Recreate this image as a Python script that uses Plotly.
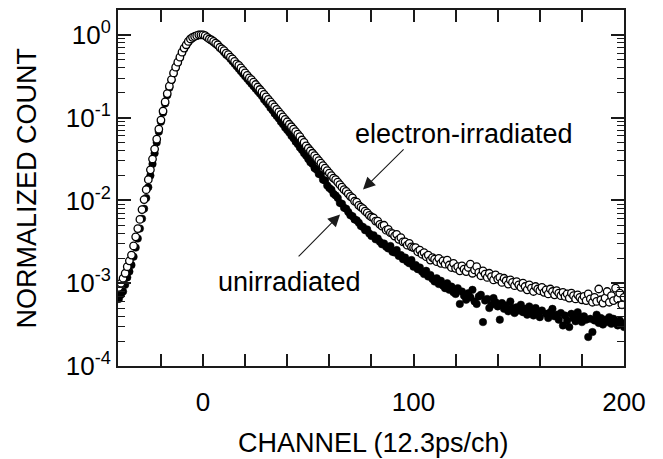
import plotly.graph_objects as go

# Channels (12.3 ps per channel)
channels = list(range(-40, 201))

# log10(normalized count), channel -40 ... 200
electron_irradiated_log10 = [
    -3.05, -3.00, -2.94, -2.88, -2.80, -2.73, -2.66, -2.55, -2.44, -2.34,
    -2.23, -2.11, -1.99, -1.87, -1.75, -1.63, -1.50, -1.38, -1.26, -1.14,
    -1.03, -0.92, -0.81, -0.71, -0.62, -0.54, -0.46, -0.39, -0.33, -0.27,
    -0.21, -0.16, -0.12, -0.08, -0.05, -0.03, -0.02, -0.01, 0.00, 0.00,
    0.00,
    -0.01, -0.03, -0.05, -0.06, -0.08,
    -0.10, -0.12, -0.15, -0.17, -0.19,
    -0.22, -0.24, -0.27, -0.29, -0.32,
    -0.35, -0.37, -0.40, -0.43, -0.46,
    -0.49, -0.52, -0.54, -0.57, -0.60,
    -0.63, -0.66, -0.69, -0.72, -0.75,
    -0.78, -0.81, -0.84, -0.87, -0.90,
    -0.93, -0.96, -0.99, -1.02, -1.05,
    -1.08, -1.11, -1.14, -1.17, -1.20,
    -1.23, -1.27, -1.30, -1.34, -1.37,
    -1.40, -1.43, -1.46, -1.49, -1.52,
    -1.55, -1.58, -1.61, -1.64, -1.67,
    -1.70, -1.73, -1.75, -1.78, -1.81,
    -1.84, -1.87, -1.89, -1.92, -1.95,
    -1.97, -2.01, -2.02, -2.06, -2.08,
    -2.10, -2.13, -2.15, -2.18, -2.20,
    -2.21, -2.25, -2.25, -2.29, -2.31,
    -2.30, -2.36, -2.35, -2.39, -2.40,
    -2.43, -2.41, -2.47, -2.45, -2.50,
    -2.50, -2.54, -2.52, -2.56, -2.57,
    -2.57, -2.62, -2.60, -2.65, -2.63,
    -2.68, -2.66, -2.72, -2.69, -2.71,
    -2.74, -2.70, -2.76, -2.73, -2.77,
    -2.72, -2.78, -2.81, -2.76, -2.82,
    -2.80, -2.85, -2.79, -2.83, -2.86,
    -2.81, -2.77, -2.88, -2.84, -2.80,
    -2.87, -2.91, -2.85, -2.89, -2.93,
    -2.88, -2.92, -2.96, -2.90, -2.95,
    -2.93, -2.99, -2.94, -2.97, -3.01,
    -2.96, -2.99, -3.03, -2.98, -3.02,
    -3.05, -3.00, -3.04, -3.08, -3.02,
    -3.06, -3.10, -3.04, -3.07, -3.09,
    -3.05, -3.11, -3.08, -3.13, -3.07,
    -3.10, -3.14, -3.09, -3.12, -3.15,
    -3.11, -3.16, -3.13, -3.18, -3.12,
    -3.15, -3.19, -3.14, -3.17, -3.20,
    -3.16, -3.21, -3.13, -3.19, -3.23,
    -3.17, -3.22, -3.07, -3.20, -3.24,
    -3.18, -3.10, -3.23, -3.15, -3.21,
    -3.06, -3.19, -3.12, -3.26, -3.17,
]

unirradiated_log10 = [
    -3.19, -3.14, -3.10, -3.02, -2.93, -2.86, -2.78, -2.68, -2.57, -2.46,
    -2.34, -2.22, -2.10, -1.97, -1.84, -1.70, -1.56, -1.43, -1.30, -1.17,
    -1.05, -0.94, -0.83, -0.73, -0.64, -0.55, -0.47, -0.40, -0.34, -0.28,
    -0.22, -0.17, -0.13, -0.09, -0.06, -0.04, -0.02, -0.01, 0.00, 0.00,
    0.00,
    -0.01, -0.03, -0.05, -0.07, -0.09,
    -0.11, -0.13, -0.16, -0.18, -0.21,
    -0.24, -0.26, -0.29, -0.32, -0.35,
    -0.38, -0.41, -0.44, -0.47, -0.50,
    -0.53, -0.56, -0.59, -0.62, -0.65,
    -0.68, -0.71, -0.74, -0.78, -0.81,
    -0.84, -0.88, -0.91, -0.95, -0.98,
    -1.01, -1.05, -1.08, -1.12, -1.15,
    -1.18, -1.22, -1.25, -1.29, -1.32,
    -1.36, -1.39, -1.43, -1.46, -1.50,
    -1.54, -1.56, -1.61, -1.63, -1.68,
    -1.69, -1.75, -1.76, -1.82, -1.85,
    -1.87, -1.92, -1.94, -1.97, -2.03,
    -2.04, -2.09, -2.10, -2.14, -2.18,
    -2.19, -2.23, -2.24, -2.27, -2.31,
    -2.32, -2.36, -2.35, -2.40, -2.43,
    -2.42, -2.47, -2.46, -2.50, -2.53,
    -2.52, -2.56, -2.58, -2.55, -2.62,
    -2.63, -2.60, -2.67, -2.66, -2.71,
    -2.69, -2.74, -2.76, -2.72, -2.80,
    -2.78, -2.83, -2.81, -2.86, -2.89,
    -2.85, -2.92, -2.90, -2.95, -2.98,
    -2.94, -3.01, -2.97, -3.03, -3.06,
    -3.00, -3.08, -3.04, -3.11, -3.13,
    -3.06, -3.25, -3.10, -3.15, -3.20,
    -3.12, -3.17, -3.08, -3.22, -3.25,
    -3.16, -3.14, -3.47, -3.21, -3.19,
    -3.30, -3.26, -3.18, -3.23, -3.28,
    -3.44, -3.24, -3.31, -3.27, -3.34,
    -3.22, -3.30, -3.36, -3.29, -3.33,
    -3.26, -3.35, -3.31, -3.38, -3.28,
    -3.34, -3.39, -3.30, -3.36, -3.41,
    -3.33, -3.07, -3.37, -3.42, -3.35,
    -3.31, -3.40, -3.38, -3.44, -3.36,
    -3.51, -3.39, -3.45, -3.53, -3.37,
    -3.42, -3.46, -3.35, -3.41, -3.47,
    -3.40, -3.44, -3.65, -3.43, -3.59,
    -3.45, -3.38, -3.48, -3.42, -3.50,
    -3.44, -3.47, -3.41, -3.49, -3.43,
    -3.46, -3.51, -3.45, -3.48, -3.53,
]

electron_irradiated = [10 ** v for v in electron_irradiated_log10]
unirradiated = [10 ** v for v in unirradiated_log10]

y_tick_vals = [1e-4, 1e-3, 1e-2, 1e-1, 1]
y_tick_text = ["10<sup>-4</sup>", "10<sup>-3</sup>", "10<sup>-2</sup>",
               "10<sup>-1</sup>", "10<sup>0</sup>"]

FONT = "Liberation Sans, Arial, sans-serif"
INK = "#1a1a1a"

fig = go.Figure()
fig.add_trace(go.Scatter(
    x=channels, y=unirradiated, mode="markers", name="unirradiated",
    marker=dict(symbol="circle", size=7.5, color="black",
                line=dict(color="black", width=0.5)),
))
fig.add_trace(go.Scatter(
    x=channels, y=electron_irradiated, mode="markers", name="electron-irradiated",
    marker=dict(symbol="circle", size=7.5, color="white",
                line=dict(color="black", width=1.3)),
))

fig.update_layout(
    width=655, height=451,
    margin=dict(l=110, r=39, t=0, b=93),
    paper_bgcolor="white", plot_bgcolor="white",
    showlegend=False,
    font=dict(family=FONT, size=26, color="black"),
    xaxis=dict(
        range=[-40.4, 200], tickmode="linear", tick0=0, dtick=100,
        ticks="inside", ticklen=12, tickwidth=1.5,
        tickcolor=INK, showline=True, linecolor=INK, linewidth=1.8,
        mirror="ticks", showgrid=False, zeroline=False,
        tickfont=dict(size=26), ticklabelstandoff=12,
        minor=dict(ticks="inside", ticklen=12, tickwidth=1.5, tickcolor=INK,
                   tick0=0, dtick=20, showgrid=False),
    ),
    yaxis=dict(
        type="log", range=[-4, 0.30], tickmode="array", tickvals=y_tick_vals,
        ticktext=y_tick_text, ticks="inside", ticklen=13, tickwidth=1.5,
        tickcolor=INK, showline=True, linecolor=INK, linewidth=1.8,
        mirror="ticks", showgrid=False, zeroline=False,
        tickfont=dict(size=26),
        minor=dict(ticks="inside", ticklen=7, tickwidth=1.2, tickcolor=INK,
                   dtick="D1", showgrid=False),
    ),
    annotations=[
        dict(text="CHANNEL (12.3ps/ch)", xref="paper", yref="paper",
             x=0.504, y=-0.217, xanchor="center", yanchor="middle",
             showarrow=False, font=dict(size=27)),
        dict(text="NORMALIZED COUNT", xref="paper", yref="paper",
             x=-0.180, y=0.501, xanchor="center", yanchor="middle",
             textangle=-90, showarrow=False, font=dict(size=27)),
        dict(text="electron-irradiated", xref="x", yref="y",
             x=71.3, y=-1.20, xanchor="left", yanchor="middle",
             showarrow=False, font=dict(size=27)),
        dict(text="unirradiated", xref="x", yref="y",
             x=6.2, y=-2.99, xanchor="left", yanchor="middle",
             showarrow=False, font=dict(size=27)),
        dict(text="", xref="x", yref="y", x=76.0, y=-1.868,
             axref="x", ayref="y", ax=96.0, ay=-1.365,
             showarrow=True, arrowhead=2, arrowsize=2.2, arrowwidth=1.1,
             arrowcolor=INK),
        dict(text="", xref="x", yref="y", x=65.1, y=-2.17,
             axref="x", ayref="y", ax=44.7, ay=-2.695,
             showarrow=True, arrowhead=2, arrowsize=2.2, arrowwidth=1.1,
             arrowcolor=INK),
    ],
)

fig.write_html("out.html")
